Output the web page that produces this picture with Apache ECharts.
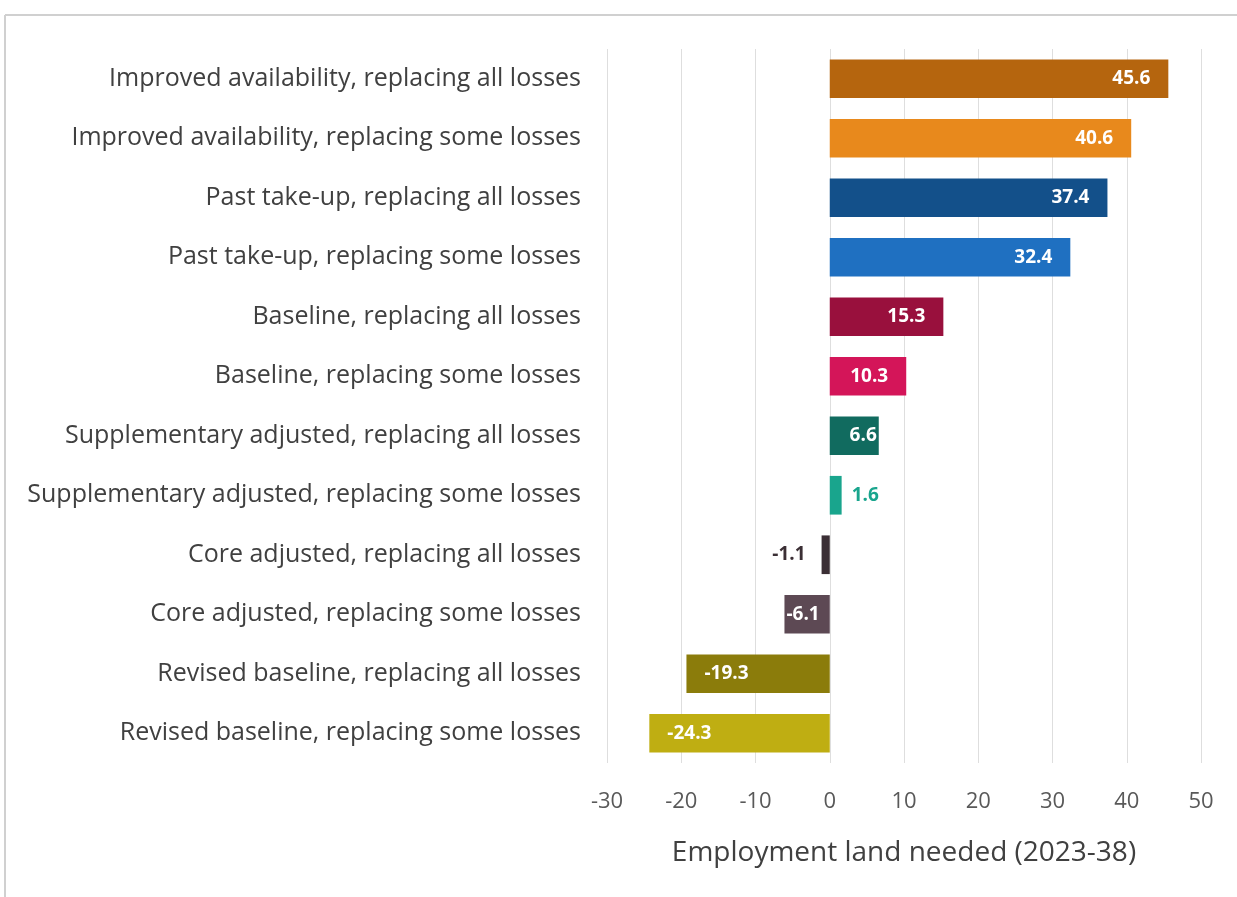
<!DOCTYPE html>
<html>
<head>
<meta charset="utf-8">
<script src="https://cdn.jsdelivr.net/npm/echarts@6/dist/echarts.min.js"></script>
<style>
  html, body { margin: 0; padding: 0; background: #ffffff; }
  #chart { width: 1237px; height: 897px; }
</style>
</head>
<body>
<div id="chart"></div>
<script>
// Scenario names, top to bottom
const categories = [
  'Improved availability, replacing all losses',
  'Improved availability, replacing some losses',
  'Past take-up, replacing all losses',
  'Past take-up, replacing some losses',
  'Baseline, replacing all losses',
  'Baseline, replacing some losses',
  'Supplementary adjusted, replacing all losses',
  'Supplementary adjusted, replacing some losses',
  'Core adjusted, replacing all losses',
  'Core adjusted, replacing some losses',
  'Revised baseline, replacing all losses',
  'Revised baseline, replacing some losses'
];

// Employment land needed, 2023-38
const values = [45.6, 40.6, 37.4, 32.4, 15.3, 10.3, 6.6, 1.6, -1.1, -6.1, -19.3, -24.3];

// One colour per scenario
const barColors = [
  '#b5650e', '#e8891c', '#13508a', '#1f70c1',
  '#99103d', '#d41559', '#116b5f', '#19a58d',
  '#3b2f35', '#5d4954', '#8b7c0b', '#bfae12'
];

const xTicks = [-30, -20, -10, 0, 10, 20, 30, 40, 50];

const FONT = '"Open Sans", Lato, sans-serif';

// Labels sit inside the bar end; very short bars get the label beside
// the bar in the bar's own colour, short ones hug the end of the bar.
function labelFor(v, color) {
  const a = Math.abs(v);
  if (a < 3) {
    return {
      show: true,
      position: v >= 0 ? 'right' : 'left',
      distance: v >= 0 ? 10 : 16,
      color: color
    };
  }
  return {
    show: true,
    position: v >= 0 ? 'insideRight' : 'insideLeft',
    distance: a < 8 ? 2 : 18,
    color: '#ffffff'
  };
}

const chart = echarts.init(document.getElementById('chart'), null, { renderer: 'canvas' });

chart.setOption({
  backgroundColor: '#ffffff',
  animation: false,
  graphic: [
    { type: 'line', shape: { x1: 5, y1: 15, x2: 1237, y2: 15 }, style: { stroke: '#d0d0d0', lineWidth: 2 } },
    { type: 'line', shape: { x1: 5, y1: 15, x2: 5, y2: 897 }, style: { stroke: '#d0d0d0', lineWidth: 2 } }
  ],
  grid: { left: 607, right: 36, top: 49, bottom: 134, containLabel: false },
  xAxis: {
    type: 'value',
    min: xTicks[0],
    max: xTicks[xTicks.length - 1],
    interval: 10,
    name: 'Employment land needed (2023-38)',
    nameLocation: 'middle',
    nameGap: 76,
    nameTextStyle: { fontFamily: FONT, fontSize: 28, color: '#404040' },
    axisLine: { show: false },
    axisTick: { show: false },
    axisLabel: { fontFamily: FONT, fontSize: 22, color: '#595959', margin: 28 },
    splitLine: { show: true, lineStyle: { color: '#dedede', width: 1 } }
  },
  yAxis: {
    type: 'category',
    inverse: true,
    data: categories,
    axisLine: { show: false },
    axisTick: { show: false },
    axisLabel: { fontFamily: FONT, fontSize: 25, color: '#404040', margin: 26, padding: [4, 0, 0, 0] }
  },
  series: [{
    type: 'bar',
    barCategoryGap: '35%',
    data: values.map((v, i) => ({
      value: v,
      itemStyle: { color: barColors[i] },
      label: labelFor(v, barColors[i])
    })),
    label: {
      show: true,
      fontFamily: FONT,
      fontSize: 19,
      fontWeight: 'bold',
      formatter: p => p.value.toFixed(1)
    }
  }]
});
</script>
</body>
</html>
